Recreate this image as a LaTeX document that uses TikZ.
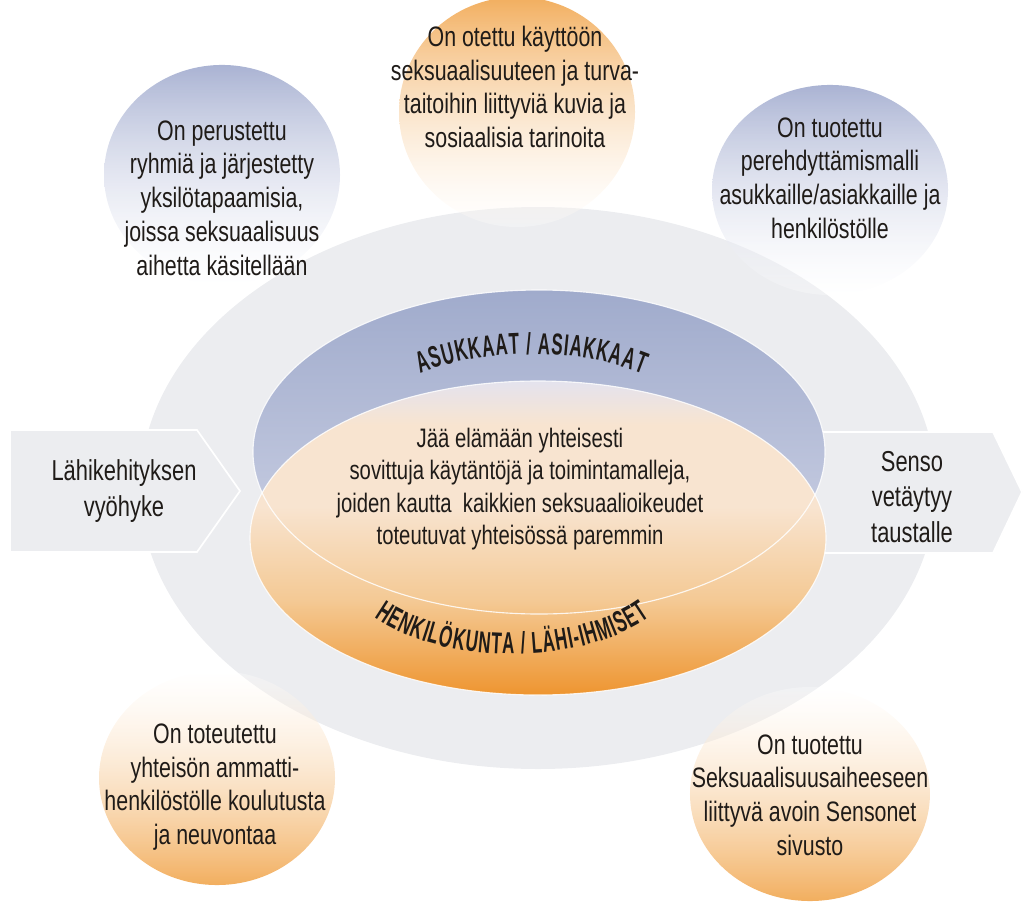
\documentclass[tikz,border=0pt]{standalone}
\usepackage{fontspec}
\setmainfont{Liberation Sans}[FakeStretch=0.76]
\newfontfamily\headfont{Liberation Sans}[FakeStretch=0.56]
\usetikzlibrary{fadings}
\usetikzlibrary{decorations.text}
\usetikzlibrary{positioning}

\definecolor{zonegray}{HTML}{ECEDF0}
\definecolor{bluetop}{HTML}{A0ABCC}
\definecolor{bluelow}{HTML}{D3D7E8}
\definecolor{orangetop}{HTML}{E4E3EE}
\definecolor{orangecream}{HTML}{F8E4D0}
\definecolor{orangemid}{HTML}{F4C994}
\definecolor{orangelow}{HTML}{EE9530}
\definecolor{bubbleblue}{HTML}{AAB3D3}
\definecolor{bubbleorange}{HTML}{F2AE5E}
\definecolor{inktext}{HTML}{1F1B18}

\tikzfading[name=bubble down, top color=transparent!0, bottom color=transparent!70]
\tikzfading[name=bubble up, top color=transparent!70, bottom color=transparent!0]

% shading of the lower ellipse (path is mapped to 25bp--75bp)
\pgfdeclareverticalshading{staffshade}{100bp}{color(0bp)=(orangelow); color(25bp)=(orangelow);
	color(40bp)=(orangemid); color(55bp)=(orangecream); color(68bp)=(orangecream);
	color(75bp)=(orangetop); color(100bp)=(orangetop)}

\newcommand{\arcfont}{\headfont\bfseries\fontsize{21.5}{22}\selectfont\color{inktext}\kern0.7pt}

\begin{document}
\begin{tikzpicture}[x=0.025cm,y=0.025cm,
	body text/.style={font=\fontsize{19}{23}\selectfont, text=inktext, align=center},
	bubble text/.style={font=\fontsize{20}{24}\selectfont, text=inktext, align=center},
	arrow text/.style={font=\fontsize{20.5}{25}\selectfont, text=inktext, align=center},
	arrow body/.style={fill=zonegray, draw=white, line width=1.2pt},
	blue bubble/.style={top color=bubbleblue, bottom color=white, path fading=bubble down},
	orange high/.style={top color=bubbleorange, bottom color=white, path fading=bubble down},
	orange low/.style={top color=white, bottom color=bubbleorange, path fading=bubble up},
	rim/.style={draw=white, line width=0.8pt, draw opacity=0.85},
	arc label/.style={decorate, decoration={text along path, text align=center,
		text={|\arcfont|#1}}}]
	
	\useasboundingbox (0,0) rectangle (1025,-902);
	
	% outer zone
	\fill[zonegray] (538,-488) ellipse [x radius=398, y radius=281];
	
	% side arrows
	\filldraw[arrow body] (10,-430) -- (197,-430) -- (240,-491) -- (197,-552) -- (10,-552) -- cycle;
	\filldraw[arrow body] (800,-432) -- (993,-432) -- (1022,-492) -- (993,-553) -- (800,-553) -- cycle;
	\node[arrow text] (zone) at (124,-491) {Lähikehityksen\\vyöhyke};
	\node[arrow text] (senso) at (912,-497) {Senso\\vetäytyy\\taustalle};
	
	% bubbles
	\shade[blue bubble] (222,-175) ellipse [x radius=118, y radius=110];
	\shade[orange high] (517,-112) ellipse [x radius=118, y radius=115];
	\shade[blue bubble] (830,-190) ellipse [x radius=118, y radius=105];
	\shade[orange low] (217,-778) ellipse [x radius=118, y radius=107];
	\shade[orange low] (810,-794) ellipse [x radius=120, y radius=107];
	
	\node[bubble text] (groups) at (222,-198) {On perustettu\\ryhmiä ja järjestetty\\yksilötapaamisia,\\joissa seksuaalisuus\\aihetta käsitellään};
	\node[bubble text] (pictures) at (515,-87) {On otettu käyttöön\\seksuaalisuuteen ja turva-\\taitoihin liittyviä kuvia ja\\sosiaalisia tarinoita};
	\node[bubble text] (model) at (830,-178) {On tuotettu\\perehdyttämismalli\\asukkaille/asiakkaille ja\\henkilöstölle};
	\node[bubble text] (training) at (215,-787) {On toteutettu\\yhteisön ammatti-\\henkilöstölle koulutusta\\ja neuvontaa};
	\node[bubble text] (website) at (810,-795) {On tuotettu\\Seksuaalisuusaiheeseen\\liittyvä avoin Sensonet\\sivusto};
	
	% central ellipses
	\shade[top color=bluetop, bottom color=bluelow] (539,-452) ellipse [x radius=286, y radius=162];
	\shade[shading=staffshade] (538,-538) ellipse [x radius=288, y radius=157];
	\draw[rim] (539,-452) ellipse [x radius=286, y radius=162];
	\draw[rim] (538,-538) ellipse [x radius=288, y radius=157];
	
	\path[arc label={ASUKKAAT / ASIAKKAAT}]
	(531,-446) ++(160:181 and 92) arc [start angle=160, end angle=20, x radius=181, y radius=92];
	\path[arc label={HENKILÖKUNTA / LÄHI-IHMISET}]
	(512,-562) ++(190:172 and 92) arc [start angle=190, end angle=350, x radius=172, y radius=92];
	
	\node[body text] (core) at (520,-489) {Jää elämään yhteisesti\\sovittuja käytäntöjä ja toimintamalleja,\\joiden kautta\ \ kaikkien seksuaalioikeudet\\toteutuvat yhteisössä paremmin};
\end{tikzpicture}
\end{document}
